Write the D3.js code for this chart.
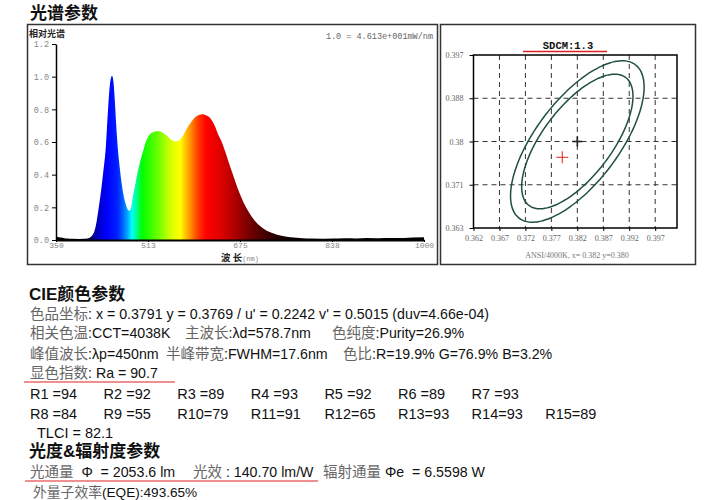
<!DOCTYPE html>
<html><head><meta charset="utf-8">
<script src="https://cdn.jsdelivr.net/npm/d3@7/dist/d3.min.js"></script>
<style>body{margin:0;background:#fff}</style>
</head><body><svg id="c" width="728" height="500" xmlns="http://www.w3.org/2000/svg"></svg>
<script>
// ---------- spectrum data ----------
const wavelengths = [350,355,360,365,370,380,390,400,405,410,415,419,423,427,431,435,439,443,446,449,452,455,458,461,464,467,470,473,476,480,484,488,492,496,500,505,510,515,520,525,530,535,540,545,550,555,560,565,570,575,580,585,590,595,600,605,610,615,620,625,630,635,640,645,650,655,660,665,670,675,680,690,700,710,720,730,740,750,760,770,780,800,820,840,860,880,900,920,940,960,980,1000];
const intensity = [0.015,0.012,0.010,0.006,0.004,0.002,0.001,0.002,0.004,0.010,0.025,0.05,0.11,0.20,0.30,0.42,0.55,0.78,0.93,1.00,0.88,0.70,0.55,0.45,0.36,0.29,0.24,0.205,0.182,0.174,0.20,0.28,0.35,0.42,0.48,0.54,0.60,0.635,0.652,0.660,0.663,0.658,0.648,0.634,0.618,0.605,0.599,0.600,0.612,0.633,0.665,0.695,0.720,0.742,0.756,0.764,0.765,0.758,0.748,0.725,0.690,0.645,0.610,0.565,0.515,0.460,0.410,0.360,0.310,0.268,0.228,0.165,0.115,0.080,0.055,0.040,0.028,0.020,0.014,0.010,0.007,0.004,0.003,0.004,0.006,0.005,0.007,0.006,0.008,0.007,0.010,0.012];
const specXTicks = [350, 512.5, 675, 837.5, 1000];
const specXTickLabels = ["350","513","675","838","1000"];
const specYTicks = [0, 0.2, 0.4, 0.6, 0.8, 1.0, 1.2];
const specYTickLabels = ["0.0","0.2","0.4","0.6","0.8","1.0","1.2"];
const colorStopNm = [350,405,420,440,458,468,476,484,492,502,515,535,550,562,570,578,588,600,615,640,665,690,720,760,1000];
const colorStopHex = ["#000000","#000010","#0000b0","#0000ff","#0020ff","#0060ff","#00a8ff","#00ffff","#00ff90","#00ff00","#30ff00","#80ff00","#c8ff00","#f0ff00","#ffff00","#ffc800","#ff8c00","#ff4000","#ff0000","#e00000","#b00000","#780000","#400000","#0a0000","#000000"];

// ---------- chromaticity (SDCM) data ----------
const cieXTicks = [0.362,0.367,0.372,0.377,0.382,0.387,0.392,0.397];
const cieXTickLabels = ["0.362","0.367","0.372","0.377","0.382","0.387","0.392","0.397"];
const cieYTicks = [0.363,0.3715,0.380,0.3885,0.397];
const cieYTickLabels = ["0.363","0.371","0.38","0.388","0.397"];
const ellipseCenter = [0.382, 0.380];
const macAdamAxes = [0.00313, 0.00134];   // a, b for 1 step
const macAdamAngle = 53.72;                // degrees
const ellipseSteps = [5, 6];
const measuredPoint = [0.3791, 0.3769];

// ---------- text rows ----------
const rowsCIE = [
  [[0,"色品坐标",": x = 0.3791 y = 0.3769 / u' = 0.2242 v' = 0.5015 (duv=4.66e-04)"]],
  [[0,"相关色温",":CCT=4038K"],[155,"主波长",":λd=578.7nm"],[302,"色纯度",":Purity=26.9%"]],
  [[0,"峰值波长",":λp=450nm"],[136,"半峰带宽",":FWHM=17.6nm"],[313,"色比",":R=19.9% G=76.9% B=3.2%"]],
  [[0,"显色指数",": Ra = 90.7"]]
];
const rLabels = ["R1 =","R2 =","R3 =","R4 =","R5 =","R6 =","R7 =","R8 =","R9 =","R10=","R11=","R12=","R13=","R14=","R15="];
const rValues = [94,92,89,93,92,89,93,84,55,79,91,65,93,93,89];
const tlci = "TLCI = 82.1";
const photoRow = [[0,"光通量","  Φ  = 2053.6 lm"],[163,"光效"," : 140.70 lm/W"],[293,"辐射通量"," Φe  = 6.5598 W"]];
const eqeRow = [[0,"外量子效率","(EQE):493.65%"]];

const svg = d3.select("#c");
const CJK = "'Noto Sans CJK SC', sans-serif";
const LAT = "'Liberation Sans', Arial, sans-serif";
const MIX = "'Liberation Sans', Arial, 'Noto Sans CJK SC', sans-serif";
const MONO = "'Liberation Mono', 'DejaVu Sans Mono', monospace";
const SERIF = "'Liberation Serif', 'DejaVu Serif', serif";

// headings
svg.append("text").attr("x",30).attr("y",19).attr("font-family",CJK).attr("font-size",17).attr("font-weight","bold").attr("fill","#111").text("光谱参数");

// ---------- spectrum panel ----------
svg.append("rect").attr("x",27.5).attr("y",24.5).attr("width",410).attr("height",240).attr("fill","none").attr("stroke","#333").attr("stroke-width",1.5);
const xS = d3.scaleLinear().domain([350,1000]).range([56,424]);
const yS = d3.scaleLinear().domain([0,1.2]).range([240,44]);
const defs = svg.append("defs");
const grad = defs.append("linearGradient").attr("id","spec").attr("gradientUnits","userSpaceOnUse")
  .attr("x1",xS(350)).attr("x2",xS(1000)).attr("y1",0).attr("y2",0);
colorStopNm.forEach((nm,i)=>grad.append("stop").attr("offset",(nm-350)/650).attr("stop-color",colorStopHex[i]));
const spec = wavelengths.map((w,i)=>({w, v:intensity[i]}));
svg.append("path").datum(spec).attr("fill","url(#spec)")
  .attr("d", d3.area().x(d=>xS(d.w)).y0(yS(0)).y1(d=>yS(d.v)).curve(d3.curveMonotoneX));
svg.append("path").datum(spec).attr("fill","none").attr("stroke","url(#spec)").attr("stroke-width",1.6)
  .attr("d", d3.line().x(d=>xS(d.w)).y(d=>yS(d.v)).curve(d3.curveMonotoneX));

const yAx = svg.append("g").attr("transform",`translate(${xS(350)},0)`)
  .call(d3.axisLeft(yS).tickValues(specYTicks).tickFormat((d,i)=>specYTickLabels[i]).tickSize(4).tickSizeOuter(0));
yAx.select(".domain").attr("stroke","#000").attr("stroke-width",1.5);
yAx.selectAll("text").attr("font-family",MONO).attr("font-size",8.5).attr("fill","#888");
const xAx = svg.append("g").attr("transform",`translate(0,${yS(0)})`)
  .call(d3.axisBottom(xS).tickValues(specXTicks).tickFormat((d,i)=>specXTickLabels[i]).tickSize(2).tickSizeOuter(0));
xAx.select(".domain").attr("stroke","#000").attr("stroke-width",2);
xAx.selectAll("text").attr("font-family",MONO).attr("font-size",8).attr("fill","#888").attr("dy","0.4em");
svg.append("text").attr("x",29).attr("y",37).attr("font-family",CJK).attr("font-size",9).attr("font-weight","bold").attr("fill","#222").text("相对光谱");
svg.append("text").attr("x",433).attr("y",39).attr("text-anchor","end").attr("font-family",MONO).attr("font-size",8.5).attr("fill","#666").text("1.0 = 4.613e+001mW/nm");
const xt = svg.append("text").attr("x",240).attr("y",261).attr("text-anchor","middle");
xt.append("tspan").attr("font-family",CJK).attr("font-size",9.5).attr("font-weight","bold").attr("fill","#222").text("波 长");
xt.append("tspan").attr("font-family",MONO).attr("font-size",7).attr("fill","#888").text("(nm)");

// ---------- SDCM panel ----------
svg.append("rect").attr("x",440.5).attr("y",24.5).attr("width",255).attr("height",240).attr("fill","none").attr("stroke","#333").attr("stroke-width",1.5);
const xC = d3.scaleLinear().domain([0.362,0.4012]).range([473.5,677]);
const yC = d3.scaleLinear().domain([0.363,0.397]).range([228,55]);
const grid = svg.append("g").attr("stroke","#333").attr("stroke-width",1).attr("stroke-dasharray","5,4");
cieXTicks.slice(1).forEach(v=>grid.append("line").attr("x1",xC(v)).attr("x2",xC(v)).attr("y1",yC(0.397)).attr("y2",yC(0.363)));
cieYTicks.slice(1,-1).forEach(v=>grid.append("line").attr("x1",xC(0.362)).attr("x2",xC(0.4012)).attr("y1",yC(v)).attr("y2",yC(v)));
const cyAx = svg.append("g").attr("transform",`translate(${xC(0.362)},0)`)
  .call(d3.axisLeft(yC).tickValues(cieYTicks).tickFormat((d,i)=>cieYTickLabels[i]).tickSize(4).tickSizeOuter(0));
cyAx.selectAll("text").attr("font-family",SERIF).attr("font-size",8).attr("fill","#666").attr("x",-10);
const cxAx = svg.append("g").attr("transform",`translate(0,${yC(0.363)})`)
  .call(d3.axisBottom(xC).tickValues(cieXTicks).tickFormat((d,i)=>cieXTickLabels[i]).tickSize(3).tickSizeOuter(0));
cxAx.selectAll("text").attr("font-family",SERIF).attr("font-size",8).attr("fill","#666").attr("dy","0.9em");
[cyAx,cxAx].forEach(a=>a.select(".domain").attr("stroke","none"));
svg.append("rect").attr("x",xC(0.362)).attr("y",yC(0.397)).attr("width",xC(0.4012)-xC(0.362)).attr("height",yC(0.363)-yC(0.397))
  .attr("fill","none").attr("stroke","#000").attr("stroke-width",1.5);

const th = macAdamAngle*Math.PI/180;
const angles = d3.range(0, 361, 3).map(a=>a*Math.PI/180);
ellipseSteps.forEach(k=>{
  const pts = angles.map(t=>{
    const ex = k*macAdamAxes[0]*Math.cos(t), ey = k*macAdamAxes[1]*Math.sin(t);
    return [ellipseCenter[0] + ex*Math.cos(th) - ey*Math.sin(th), ellipseCenter[1] + ex*Math.sin(th) + ey*Math.cos(th)];
  });
  svg.append("path").datum(pts).attr("fill","none").attr("stroke","#1f4f45").attr("stroke-width",1.5)
    .attr("d", d3.line().x(d=>xC(d[0])).y(d=>yC(d[1])).curve(d3.curveCardinalClosed));
});
function cross(p, s, col, w){
  const cx = xC(p[0]), cy = yC(p[1]);
  svg.append("line").attr("x1",cx-s).attr("x2",cx+s).attr("y1",cy).attr("y2",cy).attr("stroke",col).attr("stroke-width",w);
  svg.append("line").attr("x1",cx).attr("x2",cx).attr("y1",cy-s).attr("y2",cy+s).attr("stroke",col).attr("stroke-width",w);
}
cross(ellipseCenter, 5, "#222", 1.6);
cross(measuredPoint, 6, "#e02020", 1);
svg.append("text").attr("x",568).attr("y",49).attr("text-anchor","middle").attr("font-family",MONO).attr("font-size",10.5).attr("font-weight","bold").attr("fill","#111").text("SDCM:1.3");
svg.append("line").attr("x1",523).attr("x2",607).attr("y1",51.5).attr("y2",51.5).attr("stroke","#e02020").attr("stroke-width",1.5);
svg.append("text").attr("x",577).attr("y",258).attr("text-anchor","middle").attr("font-family",SERIF).attr("font-size",8).attr("fill","#777")
  .text(`ANSI/4000K,  x= ${ellipseCenter[0].toFixed(3)} y=${ellipseCenter[1].toFixed(3)}`);

// ---------- text section ----------
function mixedRow(groups, x0, y, size, cjkSize){
  groups.forEach(([dx, cjk, lat])=>{
    const t = svg.append("text").attr("x",x0+dx).attr("y",y).attr("xml:space","preserve").style("white-space","pre");
    t.append("tspan").attr("font-family",CJK).attr("font-size",cjkSize||14.5).attr("fill","#666").text(cjk);
    t.append("tspan").attr("font-family",LAT).attr("font-size",size).attr("fill","#111").text(lat);
  });
}
svg.append("text").attr("x",29).attr("y",299.5).attr("font-family",MIX).attr("font-size",17).attr("font-weight","bold").attr("fill","#111").text("CIE颜色参数");
const rowY = [319, 338, 359, 378];
rowsCIE.forEach((g,i)=>mixedRow(g, 30, rowY[i], 14.2));
svg.append("line").attr("x1",24).attr("x2",175).attr("y1",382).attr("y2",382).attr("stroke","#e02020").attr("stroke-width",1.2);
rLabels.forEach((lab,i)=>{
  const c = i<7 ? i : i-7;
  svg.append("text").attr("x",30 + c*73.6).attr("y",i<7?399:419).attr("font-family",LAT).attr("font-size",14.5).attr("fill","#111")
    .text(lab + rValues[i]);
});
svg.append("text").attr("x",37).attr("y",438).attr("font-family",LAT).attr("font-size",14.5).attr("fill","#111").text(tlci);
svg.append("text").attr("x",29).attr("y",457).attr("font-family",MIX).attr("font-size",17).attr("font-weight","bold").attr("fill","#111").text("光度&辐射度参数");
mixedRow(photoRow, 30, 477, 14.2);
svg.append("line").attr("x1",25).attr("x2",318).attr("y1",481).attr("y2",481).attr("stroke","#e02020").attr("stroke-width",1.2);
mixedRow(eqeRow, 33, 496.5, 13.6, 13.8);
</script></body></html>
